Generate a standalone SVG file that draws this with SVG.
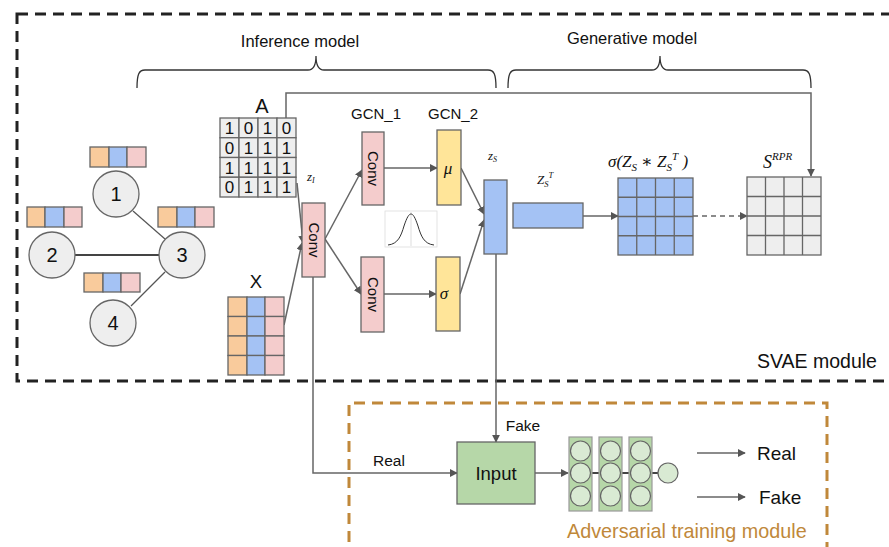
<svg xmlns="http://www.w3.org/2000/svg" width="889" height="547" viewBox="0 0 889 547">
<defs>
<marker id="ah" viewBox="0 0 10 10" refX="9" refY="5" markerWidth="8" markerHeight="8" markerUnits="userSpaceOnUse" orient="auto">
<path d="M0,0 L10,5 L0,10 z" fill="#555"/>
</marker>
<style>
.t{font-family:"Liberation Sans",Arial,sans-serif;fill:#111}
.m{font-family:"Liberation Serif","DejaVu Serif",serif;font-style:italic;fill:#111}
.ln{stroke:#666;stroke-width:1.5;fill:none}
.cell{stroke:#666;stroke-width:1.3}
.gray{fill:#eeeeee}
.or{fill:#f9cb9c}
.bl{fill:#a4c2f4}
.pk{fill:#f4cccc}
.ye{fill:#ffe599}
.gr{fill:#b6d7a8}
.node{fill:#eeeeee;stroke:#666;stroke-width:1.3}
.neu{fill:#d9ead3;stroke:#666;stroke-width:1.2}
</style>
</defs>
<rect width="889" height="547" fill="#fff"/>

<!-- module boxes -->
<g id="svae-box">
<rect x="17" y="14" width="880" height="367" fill="none" stroke="#222" stroke-width="3" stroke-dasharray="11,7"/>
<text class="t" x="757" y="368" font-size="19.5">SVAE module</text>
</g>
<g id="adv-box">
<path d="M349,560 L349,403 L827,403 L827,560" fill="none" stroke="#c0883a" stroke-width="3" stroke-dasharray="11,7"/>
<text x="567" y="538" font-size="19.8" font-family="Liberation Sans,Arial,sans-serif" fill="#c0883a">Adversarial training module</text>
</g>

<!-- braces -->
<g id="braces" fill="none" stroke="#333" stroke-width="1.3">
<path d="M137,88 C137,74 139,70 145,70 L308,70 C313,70 316,66 316,56 C316,66 319,70 324,70 L488,70 C494,70 496,74 496,88"/>
<path d="M508,88 C508,74 510,70 516,70 L652,70 C657,70 660,66 660,56 C660,66 663,70 668,70 L803,70 C809,70 811,74 811,88"/>
</g>
<text class="t" x="300" y="47" font-size="16.5" text-anchor="middle">Inference model</text>
<text class="t" x="632" y="44" font-size="16.5" text-anchor="middle">Generative model</text>

<!-- connectors -->
<g id="connectors">
<line x1="133" y1="211" x2="165" y2="239" stroke="#555" stroke-width="1.2"/>
<line x1="75" y1="255" x2="159" y2="255" stroke="#444" stroke-width="2"/>
<line x1="165" y1="272" x2="131" y2="306" stroke="#555" stroke-width="1.2"/>
<path class="ln" d="M286,118 L286,93 L811,93 L811,176" marker-end="url(#ah)"/>
<line class="ln" x1="297" y1="183" x2="303" y2="243" marker-end="url(#ah)"/>
<line class="ln" x1="284" y1="325" x2="302" y2="243" marker-end="url(#ah)"/>
<line class="ln" x1="325" y1="239" x2="362" y2="170" marker-end="url(#ah)"/>
<line class="ln" x1="325" y1="239" x2="361" y2="294" marker-end="url(#ah)"/>
<line class="ln" x1="384" y1="168" x2="437" y2="168" marker-end="url(#ah)"/>
<line class="ln" x1="384" y1="294" x2="436" y2="294" marker-end="url(#ah)"/>
<line class="ln" x1="461" y1="168" x2="484" y2="214" marker-end="url(#ah)"/>
<line class="ln" x1="460" y1="294" x2="484" y2="220" marker-end="url(#ah)"/>
<line class="ln" x1="583" y1="216" x2="618" y2="216" marker-end="url(#ah)"/>
<line class="ln" x1="693" y1="216" x2="747" y2="216" stroke-dasharray="5,4" marker-end="url(#ah)"/>
<path class="ln" d="M313,277 L313,473 L457,473" marker-end="url(#ah)"/>
<line class="ln" x1="496" y1="254" x2="496" y2="442" marker-end="url(#ah)"/>
<line class="ln" x1="535" y1="473" x2="568" y2="473" marker-end="url(#ah)"/>
<line class="ln" x1="697" y1="453" x2="745" y2="453" marker-end="url(#ah)"/>
<line class="ln" x1="697" y1="497" x2="745" y2="497" marker-end="url(#ah)"/>
</g>
<text class="t" x="389" y="466" font-size="15.5" text-anchor="middle">Real</text>
<text class="t" x="523" y="431" font-size="15.5" text-anchor="middle">Fake</text>

<!-- graph -->
<g id="node1"><circle class="node" cx="116" cy="194" r="23"/><text class="t" x="116" y="201" font-size="20" text-anchor="middle">1</text></g>
<g id="node2"><circle class="node" cx="52" cy="255" r="23"/><text class="t" x="52" y="262" font-size="20" text-anchor="middle">2</text></g>
<g id="node3"><circle class="node" cx="182" cy="255" r="23"/><text class="t" x="182" y="262" font-size="20" text-anchor="middle">3</text></g>
<g id="node4"><circle class="node" cx="113" cy="323" r="23"/><text class="t" x="113" y="330" font-size="20" text-anchor="middle">4</text></g>

<g id="feat1"><rect class="cell or" x="90" y="147" width="19" height="20"/><rect class="cell bl" x="109" y="147" width="18" height="20"/><rect class="cell pk" x="127" y="147" width="19" height="20"/></g>
<g id="feat2"><rect class="cell or" x="27" y="207" width="18" height="20"/><rect class="cell bl" x="45" y="207" width="19" height="20"/><rect class="cell pk" x="64" y="207" width="18" height="20"/></g>
<g id="feat3"><rect class="cell or" x="158" y="207" width="19" height="20"/><rect class="cell bl" x="177" y="207" width="18" height="20"/><rect class="cell pk" x="195" y="207" width="19" height="20"/></g>
<g id="feat4"><rect class="cell or" x="84" y="273" width="19" height="19"/><rect class="cell bl" x="103" y="273" width="18" height="19"/><rect class="cell pk" x="121" y="273" width="19" height="19"/></g>

<!-- Matrix A -->
<g id="matrixA">
<text class="t" x="262" y="113" font-size="20" text-anchor="middle">A</text>
<g class="gray">
<rect class="cell" x="220" y="118" width="19" height="19.75"/><rect class="cell" x="239" y="118" width="19" height="19.75"/><rect class="cell" x="258" y="118" width="19" height="19.75"/><rect class="cell" x="277" y="118" width="19" height="19.75"/>
<rect class="cell" x="220" y="137.75" width="19" height="19.75"/><rect class="cell" x="239" y="137.75" width="19" height="19.75"/><rect class="cell" x="258" y="137.75" width="19" height="19.75"/><rect class="cell" x="277" y="137.75" width="19" height="19.75"/>
<rect class="cell" x="220" y="157.5" width="19" height="19.75"/><rect class="cell" x="239" y="157.5" width="19" height="19.75"/><rect class="cell" x="258" y="157.5" width="19" height="19.75"/><rect class="cell" x="277" y="157.5" width="19" height="19.75"/>
<rect class="cell" x="220" y="177.25" width="19" height="19.75"/><rect class="cell" x="239" y="177.25" width="19" height="19.75"/><rect class="cell" x="258" y="177.25" width="19" height="19.75"/><rect class="cell" x="277" y="177.25" width="19" height="19.75"/>
</g>
<g class="t" font-size="17" text-anchor="middle">
<text x="229.5" y="134">1</text><text x="248.5" y="134">0</text><text x="267.5" y="134">1</text><text x="286.5" y="134">0</text>
<text x="229.5" y="153.75">0</text><text x="248.5" y="153.75">1</text><text x="267.5" y="153.75">1</text><text x="286.5" y="153.75">1</text>
<text x="229.5" y="173.5">1</text><text x="248.5" y="173.5">1</text><text x="267.5" y="173.5">1</text><text x="286.5" y="173.5">1</text>
<text x="229.5" y="193.25">0</text><text x="248.5" y="193.25">1</text><text x="267.5" y="193.25">1</text><text x="286.5" y="193.25">1</text>
</g>
</g>
<text class="m" x="307" y="181" font-size="13">z<tspan font-size="8" dy="2">I</tspan></text>

<!-- Matrix X -->
<g id="matrixX">
<text class="t" x="256" y="288" font-size="18.5" text-anchor="middle">X</text>
<rect class="cell or" x="228" y="297" width="19" height="19.5"/><rect class="cell bl" x="247" y="297" width="18" height="19.5"/><rect class="cell pk" x="265" y="297" width="19" height="19.5"/>
<rect class="cell or" x="228" y="316.5" width="19" height="19.5"/><rect class="cell bl" x="247" y="316.5" width="18" height="19.5"/><rect class="cell pk" x="265" y="316.5" width="19" height="19.5"/>
<rect class="cell or" x="228" y="336" width="19" height="19.5"/><rect class="cell bl" x="247" y="336" width="18" height="19.5"/><rect class="cell pk" x="265" y="336" width="19" height="19.5"/>
<rect class="cell or" x="228" y="355.5" width="19" height="19.5"/><rect class="cell bl" x="247" y="355.5" width="18" height="19.5"/><rect class="cell pk" x="265" y="355.5" width="19" height="19.5"/>
</g>

<!-- Conv blocks -->
<g id="conv0"><rect class="cell pk" x="302" y="203" width="23" height="74"/><text class="t" font-size="15" text-anchor="middle" transform="translate(313.5,240) rotate(90)" y="5">Conv</text></g>
<text class="t" x="376" y="119" font-size="15" text-anchor="middle">GCN_1</text>
<text class="t" x="453" y="119" font-size="15" text-anchor="middle">GCN_2</text>
<g id="conv1"><rect class="cell pk" x="362" y="132" width="22" height="73"/><text class="t" font-size="15" text-anchor="middle" transform="translate(373,168.5) rotate(90)" y="5">Conv</text></g>
<g id="conv2"><rect class="cell pk" x="361" y="257" width="23" height="75"/><text class="t" font-size="15" text-anchor="middle" transform="translate(372.5,294.5) rotate(90)" y="5">Conv</text></g>
<g id="mu"><rect class="cell ye" x="437" y="130" width="24" height="75"/><text class="m" x="448" y="174" font-size="17" text-anchor="middle">μ</text></g>
<g id="sigma"><rect class="cell ye" x="436" y="257" width="24" height="74"/><text class="m" x="444" y="299" font-size="17" text-anchor="middle">σ</text></g>

<!-- gaussian plot -->
<g id="gauss">
<rect x="385" y="211" width="52" height="36" fill="#fff" stroke="#ddd" stroke-width="0.8"/>
<line x1="411" y1="212" x2="411" y2="246" stroke="#bbb" stroke-width="0.5"/>
<path d="M388,245 C398,244 401,236 404,226 C407,217 409,214 411,214 C413,214 415,217 418,226 C421,236 424,244 434,245" fill="none" stroke="#333" stroke-width="1"/>
</g>

<!-- Z_s -->
<g id="zs"><rect class="cell bl" x="484" y="180" width="23" height="74"/></g>
<text class="m" x="488" y="160" font-size="13">z<tspan font-size="8" dy="2">S</tspan></text>
<g id="zsT"><rect class="cell bl" x="513" y="203" width="70" height="25"/></g>
<text class="m" x="537" y="184" font-size="13">Z<tspan font-size="8.5" dy="3">S</tspan><tspan font-size="8.5" dy="-9">T</tspan></text>

<!-- sigma grid -->
<g id="simgrid">
<text class="m" x="608" y="167" font-size="17">σ(Z<tspan font-size="11" dy="4">S</tspan><tspan dy="-4"> ∗ Z</tspan><tspan font-size="11" dy="4">S</tspan><tspan font-size="11" dy="-11">T</tspan><tspan dy="7"> )</tspan></text>
<rect x="618" y="178" width="75" height="77" fill="#a4c2f4" stroke="#666" stroke-width="1.3"/>
<path d="M636.75,178 V255 M655.5,178 V255 M674.25,178 V255 M618,197.25 H693 M618,216.5 H693 M618,235.75 H693" stroke="#666" stroke-width="1.3"/>
</g>

<!-- S^RPR -->
<g id="srpr">
<text class="m" x="763" y="168" font-size="18">S<tspan font-size="11" dy="-8">RPR</tspan></text>
<rect x="747" y="177" width="74" height="78" fill="#eeeeee" stroke="#666" stroke-width="1.3"/>
<path d="M765.5,177 V255 M784,177 V255 M802.5,177 V255 M747,196.5 H821 M747,216 H821 M747,235.5 H821" stroke="#666" stroke-width="1.3"/>
</g>

<!-- Input -->
<g id="input"><rect class="cell gr" x="457" y="442" width="78" height="62"/><text class="t" x="496" y="480" font-size="18.5" text-anchor="middle">Input</text></g>

<!-- discriminator -->
<g id="disc">
<line x1="592" y1="473" x2="599" y2="473" stroke="#444" stroke-width="2"/>
<line x1="622" y1="473" x2="629" y2="473" stroke="#444" stroke-width="2"/>
<line x1="652" y1="473" x2="658" y2="473" stroke="#444" stroke-width="2"/>
<rect x="569" y="437" width="23" height="74" fill="#b6d7a8" stroke="#999" stroke-width="1.2"/>
<rect x="599" y="437" width="23" height="74" fill="#b6d7a8" stroke="#999" stroke-width="1.2"/>
<rect x="629" y="437" width="23" height="74" fill="#b6d7a8" stroke="#999" stroke-width="1.2"/>
<circle class="neu" cx="580.5" cy="451" r="10"/><circle class="neu" cx="580.5" cy="473" r="10"/><circle class="neu" cx="580.5" cy="496" r="10"/>
<circle class="neu" cx="610.5" cy="451" r="10"/><circle class="neu" cx="610.5" cy="473" r="10"/><circle class="neu" cx="610.5" cy="496" r="10"/>
<circle class="neu" cx="640.5" cy="451" r="10"/><circle class="neu" cx="640.5" cy="473" r="10"/><circle class="neu" cx="640.5" cy="496" r="10"/>
<circle class="neu" cx="668" cy="473" r="10"/>
</g>
<text class="t" x="757" y="460" font-size="19">Real</text>
<text class="t" x="759" y="504" font-size="19">Fake</text>
</svg>
